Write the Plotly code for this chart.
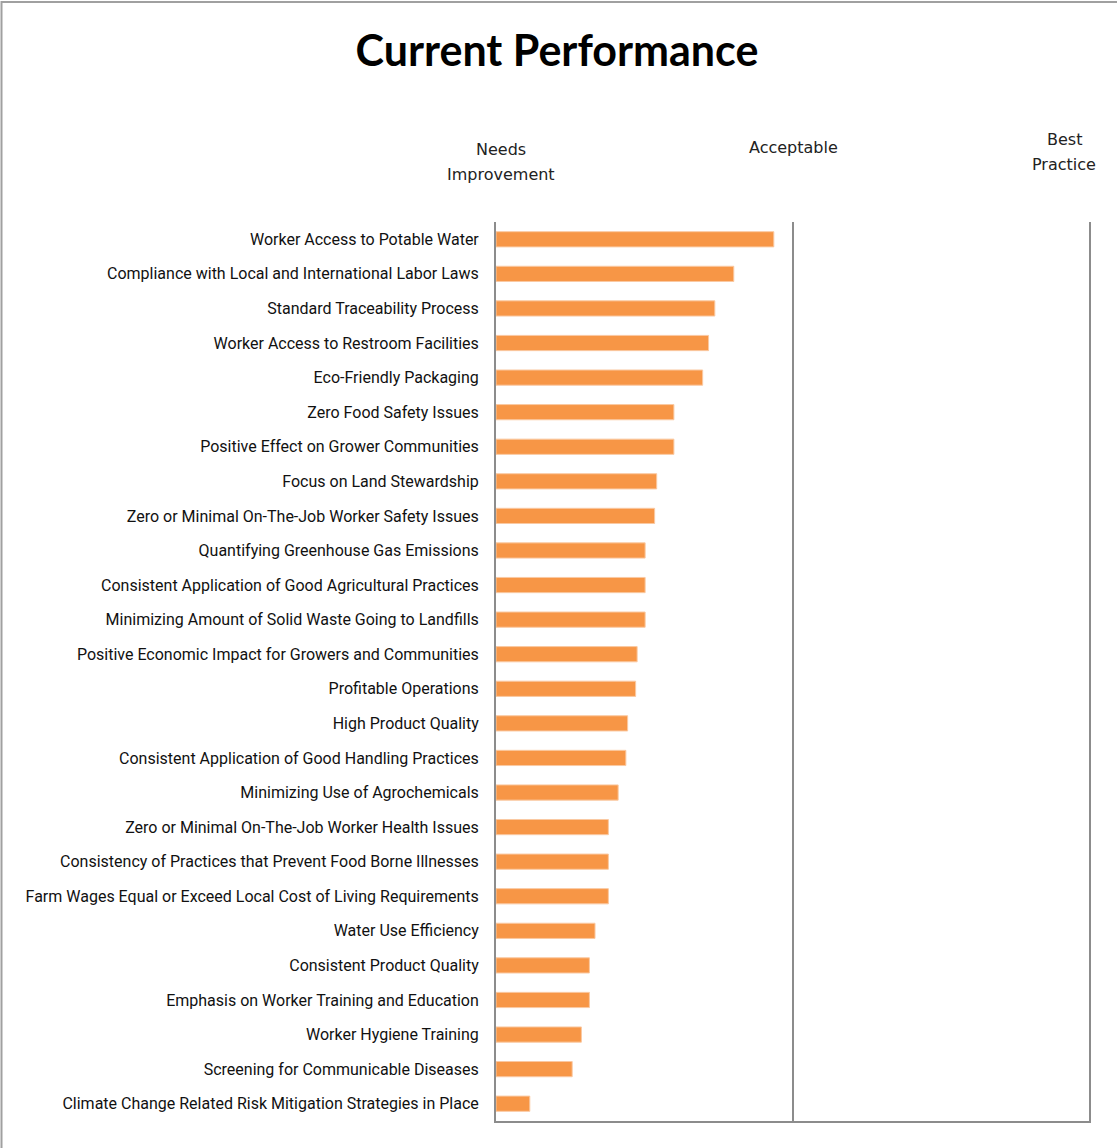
import plotly.graph_objects as go

categories = [
    "Worker Access to Potable Water",
    "Compliance with Local and International Labor Laws",
    "Standard Traceability Process",
    "Worker Access to Restroom Facilities",
    "Eco-Friendly Packaging",
    "Zero Food Safety Issues",
    "Positive Effect on Grower Communities",
    "Focus on Land Stewardship",
    "Zero or Minimal On-The-Job Worker Safety Issues",
    "Quantifying Greenhouse Gas Emissions",
    "Consistent Application of Good Agricultural Practices",
    "Minimizing Amount of Solid Waste Going to Landfills",
    "Positive Economic Impact for Growers and Communities",
    "Profitable Operations",
    "High Product Quality",
    "Consistent Application of Good Handling Practices",
    "Minimizing Use of Agrochemicals",
    "Zero or Minimal On-The-Job Worker Health Issues",
    "Consistency of Practices that Prevent Food Borne Illnesses",
    "Farm Wages Equal or Exceed Local Cost of Living Requirements",
    "Water Use Efficiency",
    "Consistent Product Quality",
    "Emphasis on Worker Training and Education",
    "Worker Hygiene Training",
    "Screening for Communicable Diseases",
    "Climate Change Related Risk Mitigation Strategies in Place",
]
values = [0.937, 0.802, 0.738, 0.717, 0.697, 0.600, 0.600, 0.542, 0.535,
          0.503, 0.503, 0.503, 0.476, 0.471, 0.444, 0.438, 0.412, 0.379,
          0.379, 0.379, 0.334, 0.315, 0.315, 0.288, 0.257, 0.114]
scale_vals = [0, 1, 2]
scale_labels = ["Needs<br>Improvement", "Acceptable", "Best<br>Practice"]
title = "Current Performance"

W, H = 1117, 1148
ML, MR, MT, MB = 496, 28, 222, 27
pw, ph = W - ML - MR, H - MT - MB

fig = go.Figure()
fig.add_trace(go.Bar(
    y=categories, x=values, orientation="h",
    marker=dict(color="#F79646", line=dict(color="#FAC9A2", width=1)),
    width=0.44, hoverinfo="x+y",
))

# header labels above the scale positions (pixel row of first line, x shift)
first_line_px = [149, 147, 139]
shifts = [5, 1, -25]
for v, lab, dx, py in zip(scale_vals, scale_labels, shifts, first_line_px):
    for i, line in enumerate(lab.split("<br>")):
        yy = (MT + ph - (py + 25 * i)) / ph
        fig.add_annotation(x=v, y=yy, xref="x", yref="paper", text=line,
                           showarrow=False, xshift=dx, yanchor="middle",
                           font=dict(family="DejaVu Sans", size=16, color="#222"))

# chart-area border (top and left visible)
fig.add_shape(type="rect", xref="paper", yref="paper",
              x0=(1.5 - ML) / pw, x1=(W + 20 - ML) / pw,
              y0=-(MB + 20) / ph, y1=(H - MB - 2) / ph,
              line=dict(color="#A0A0A0", width=2), layer="below")

fig.update_layout(
    width=W, height=H,
    margin=dict(l=ML, r=MR, t=MT, b=MB),
    paper_bgcolor="white", plot_bgcolor="white",
    showlegend=False,
    title=dict(text="<b>" + title + "</b>", x=557 / W, xanchor="center",
               y=1 - 51 / H, yanchor="middle",
               font=dict(family="Lato", size=43, color="black")),
    xaxis=dict(range=[0, 2], tickvals=[1, 2], showticklabels=False,
               showgrid=True, gridcolor="#8C8C8C", gridwidth=2,
               showline=True, linecolor="#8C8C8C", linewidth=2,
               zeroline=False, fixedrange=True),
    yaxis=dict(categoryorder="array", categoryarray=categories,
               autorange="reversed", showline=True, mirror=True,
               linecolor="#8C8C8C", linewidth=2, ticks="",
               ticklabelstandoff=12,
               tickfont=dict(family="Roboto", size=16, color="#111"),
               fixedrange=True),
    bargap=0.56,
)

fig.write_html("out.html", config={"displayModeBar": False},
               post_script="document.body.style.margin='0';")
